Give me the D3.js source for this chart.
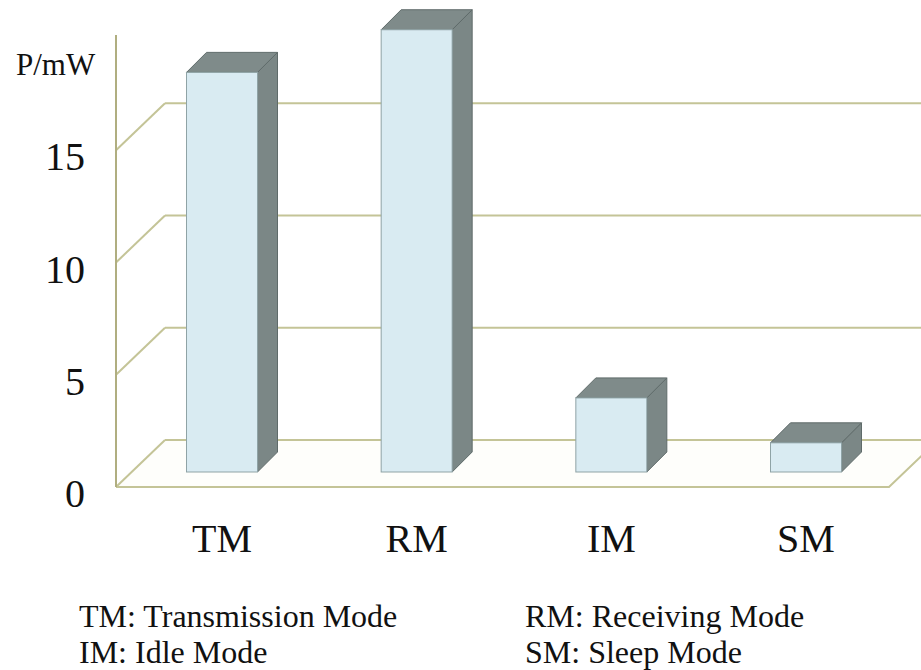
<!DOCTYPE html>
<html>
<head>
<meta charset="utf-8">
<script src="https://cdn.jsdelivr.net/npm/d3@7/dist/d3.min.js"></script>
<style>
  html, body { margin: 0; padding: 0; background: #ffffff; }
  svg { display: block; }
</style>
</head>
<body>
<svg id="chart" width="921" height="670"></svg>
<script>
// Power draw per operating mode (mW)
const categories = ["TM", "RM", "IM", "SM"];
const power = [17.8, 19.7, 3.3, 1.3];
const yTicks = [0, 5, 10, 15];
const yLabel = "P/mW";
const legendLabels = ["TM: Transmission Mode", "RM: Receiving Mode", "IM: Idle Mode", "SM: Sleep Mode"];

const serif = "'Liberation Serif', 'Times New Roman', serif";

const svg = d3.select("#chart");
const W = 921;

// front plane scales
const y = d3.scaleLinear().domain([0, 20]).range([487, 38]);
const x = d3.scalePoint().domain(categories).range([222, 806]);

// oblique projection: floor depth and bar depth
const axisX = 116;
const floorDx = 49, floorDy = -47;
const barInset = 15;      // bar front sits this far back into the floor
const barW = 71, barDx = 20, barDy = -20;

const gridColor = "#c4c497";
const axisColor = "#b0ae80";

// floor
const y0 = y(0);
const floorRight = 889;
svg.append("path")
  .attr("d", `M${axisX},${y0} L${floorRight},${y0} L${floorRight + floorDx},${y0 + floorDy} L${axisX + floorDx},${y0 + floorDy} Z`)
  .attr("fill", "#fefefb")
  .attr("stroke", "none");

// gridlines: diagonal on the side wall, horizontal on the back wall
const grid = svg.append("g").attr("fill", "none").attr("stroke", gridColor).attr("stroke-width", 2);
yTicks.forEach(t => {
  const yy = y(t);
  grid.append("line")
    .attr("x1", axisX).attr("y1", yy)
    .attr("x2", axisX + floorDx).attr("y2", yy + floorDy);
  grid.append("line")
    .attr("x1", axisX + floorDx).attr("y1", yy + floorDy)
    .attr("x2", W + 20).attr("y2", yy + floorDy);
});

// floor front and right edges
svg.append("path")
  .attr("d", `M${axisX},${y0} L${floorRight},${y0} L${floorRight + floorDx},${y0 + floorDy}`)
  .attr("fill", "none").attr("stroke", gridColor).attr("stroke-width", 2);

// vertical value axis
svg.append("line")
  .attr("x1", axisX).attr("y1", y(20) - 3)
  .attr("x2", axisX).attr("y2", y0)
  .attr("stroke", axisColor).attr("stroke-width", 2);

// 3D bars
const bars = svg.append("g");
categories.forEach((c, i) => {
  const cx = x(c);
  const x0 = cx - barW / 2, x1 = cx + barW / 2;
  const yb = y0 - barInset;
  const yt = yb - (y0 - y(power[i]));
  const g = bars.append("g");
  // side face
  g.append("path")
    .attr("d", `M${x1},${yt} L${x1 + barDx},${yt + barDy} L${x1 + barDx},${yb + barDy} L${x1},${yb} Z`)
    .attr("fill", "#7b8786").attr("stroke", "#5f6b6a").attr("stroke-width", 1);
  // top face
  g.append("path")
    .attr("d", `M${x0},${yt} L${x0 + barDx},${yt + barDy} L${x1 + barDx},${yt + barDy} L${x1},${yt} Z`)
    .attr("fill", "#7f8b8a").attr("stroke", "#5f6b6a").attr("stroke-width", 1);
  // front face
  g.append("rect")
    .attr("x", x0).attr("y", yt)
    .attr("width", barW).attr("height", yb - yt)
    .attr("fill", "#d9ebf2").attr("stroke", "#8fa3a6").attr("stroke-width", 1);
});

const label = sel => sel.style("font-family", serif).attr("fill", "#111");

// value tick labels
svg.append("g").selectAll("text")
  .data(yTicks).join("text")
  .call(label)
  .attr("x", 85)
  .attr("y", d => y(d) + 20)
  .attr("text-anchor", "end")
  .attr("font-size", 40)
  .text(d => d);

// axis title
svg.append("text")
  .call(label)
  .attr("x", 16).attr("y", 75)
  .attr("font-size", 31)
  .text(yLabel);

// category labels
svg.append("g").selectAll("text")
  .data(categories).join("text")
  .call(label)
  .attr("x", d => x(d))
  .attr("y", 552)
  .attr("text-anchor", "middle")
  .attr("font-size", 40)
  .text(d => d);

// legend, two columns
const legendX = [79, 525];
const legendY = [627, 663];
svg.append("g").selectAll("text")
  .data(legendLabels).join("text")
  .call(label)
  .attr("x", (d, i) => legendX[i % 2])
  .attr("y", (d, i) => legendY[Math.floor(i / 2)])
  .attr("font-size", 32)
  .text(d => d);
</script>
</body>
</html>
